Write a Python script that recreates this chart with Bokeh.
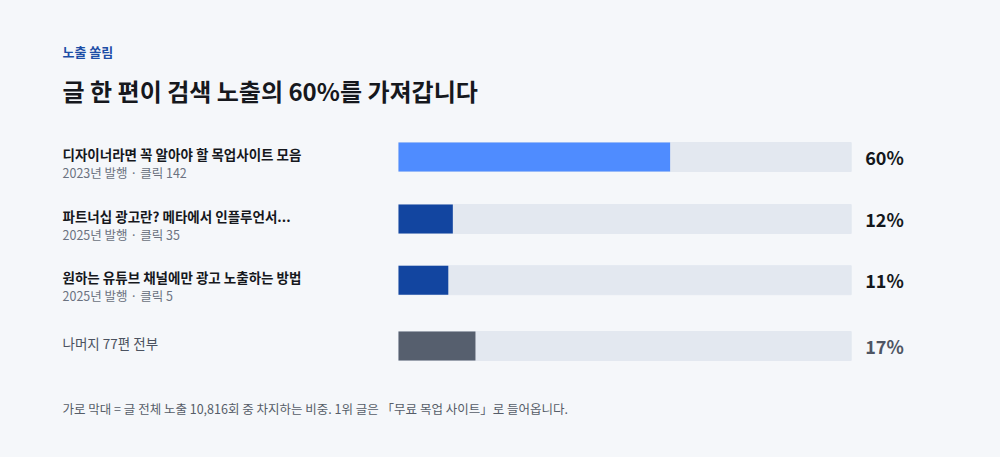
from bokeh.plotting import figure
from bokeh.models import Range1d, ColumnDataSource
from bokeh.core.properties import value
from bokeh.embed import file_html
from bokeh.resources import INLINE

# ---- data ----
titles = ["디자이너라면 꼭 알아야 할 목업사이트 모음",
          "파트너십 광고란? 메타에서 인플루언서...",
          "원하는 유튜브 채널에만 광고 노출하는 방법",
          "나머지 77편 전부"]
subtitles = ["2023년 발행 · 클릭 142", "2025년 발행 · 클릭 35", "2025년 발행 · 클릭 5", ""]
shares = [60, 12, 11, 17]
share_labels = ["60%", "12%", "11%", "17%"]
eyebrow = "노출 쏠림"
headline = "글 한 편이 검색 노출의 60%를 가져갑니다"
footnote = "가로 막대 = 글 전체 노출 10,816회 중 차지하는 비중. 1위 글은 「무료 목업 사이트」로 들어옵니다."

# ---- layout / style ----
W, H = 1000, 457
BG = "#f5f7fa"
TRACK = "#e3e8f0"
bar_colors = ["#4f8cff", "#1245a0", "#1245a0", "#565f6e"]
pct_colors = ["#14171c", "#14171c", "#14171c", "#4e5563"]
title_colors = ["#16181d", "#16181d", "#16181d", "#4b5260"]
title_styles = ["bold", "bold", "bold", "normal"]
row_y = [156.5, 218.5, 279.7, 345.5]   # page pixel rows (y grows downward)
FONT = "Noto Sans CJK KR"

track_left_px = 398.0
track_px = 452.7
px_per_unit = track_px / 100.0
x0 = -track_left_px / px_per_unit
x1 = (W - track_left_px) / px_per_unit

p = figure(width=W, height=H, output_backend="svg", toolbar_location=None,
           x_range=Range1d(x0, x1), y_range=Range1d(H, 0),
           min_border=0, min_border_left=0, min_border_right=0,
           min_border_top=0, min_border_bottom=0)
p.axis.visible = False
p.grid.visible = False
p.outline_line_color = None
p.background_fill_color = BG
p.border_fill_color = BG

src = ColumnDataSource(dict(y=row_y, v=shares, full=[100] * 4, color=bar_colors,
                            pct=share_labels, pcol=pct_colors))

# tracks and bars
p.hbar(y="y", left=0, right="full", height=29, color=TRACK, source=src)
p.hbar(y="y", left=0, right="v", height=29, fill_color="color", line_color=None, source=src)

# percentage labels
p.text(x="full", y="y", text="pct", source=src, x_offset=14, y_offset=0,
       text_font=value(FONT), text_font_size="18px", text_font_style="bold",
       text_color="pcol", text_baseline="middle", text_align="left")

# row titles & subtitles (left column)
text_left = x0 + 62 / px_per_unit
p.text(x=[text_left] * 4, y=[r - (3 if s else 3.5) for r, s in zip(row_y, subtitles)],
       text=titles, text_font=value(FONT), text_font_size="13.5px",
       text_font_style=title_styles, text_color=title_colors,
       text_baseline="middle", text_align="left")
p.text(x=[text_left] * 3, y=[r + 15.5 for r in row_y[:3]], text=subtitles[:3],
       text_font=value(FONT), text_font_size="12.5px", text_color="#6b7280",
       text_baseline="middle", text_align="left")

# header
p.text(x=[text_left], y=[51], text=[eyebrow], text_font=value(FONT),
       text_font_size="13px", text_font_style="bold", text_color="#1d4ea6",
       text_baseline="middle", text_align="left")
p.text(x=[text_left], y=[90], text=[headline], text_font=value(FONT),
       text_font_size="24px", text_font_style="bold", text_color="#16181d",
       text_baseline="middle", text_align="left")

# footnote
p.text(x=[text_left], y=[408], text=[footnote], text_font=value(FONT),
       text_font_size="12.5px", text_color="#555d68",
       text_baseline="middle", text_align="left")

html = file_html(p, INLINE)
html = html.replace("<head>", "<head><style>html,body{background:%s;margin:0;}</style>" % BG, 1)
open("out.html", "w").write(html)
